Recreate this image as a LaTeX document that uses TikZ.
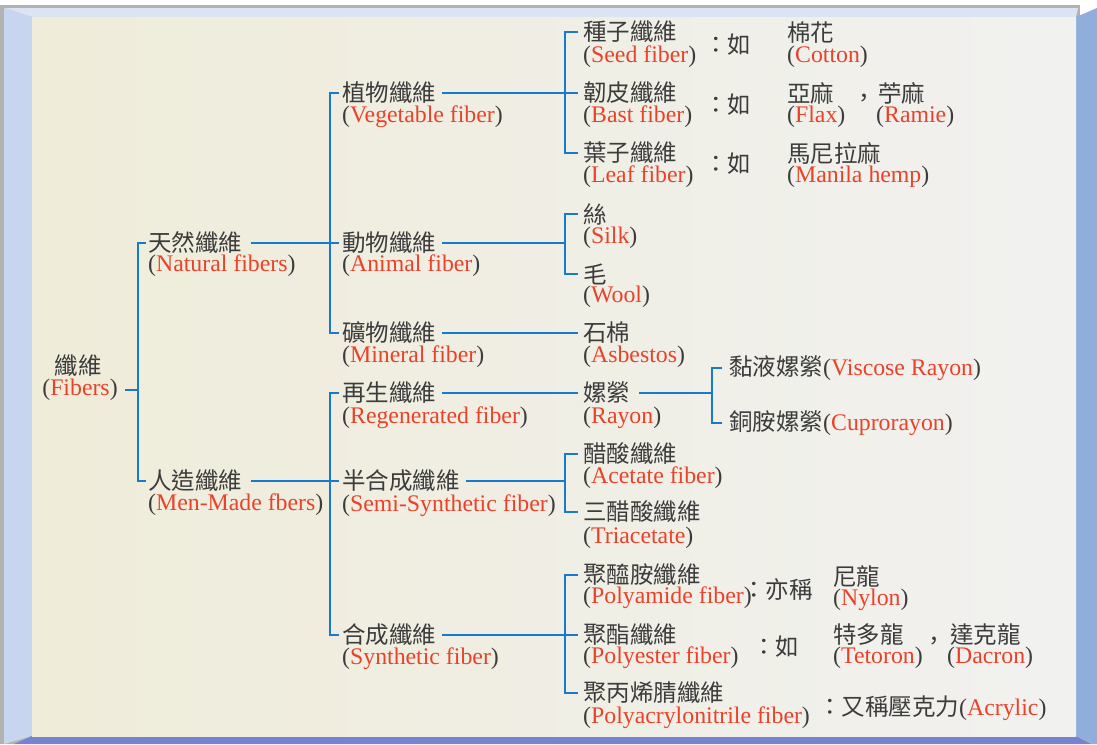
\documentclass[tikz,border=0pt]{standalone}
\usepackage{fontspec}
\setmainfont{Liberation Serif}
\newfontfamily\cjkfont{Noto Sans CJK TC}
\definecolor{linkblue}{RGB}{24,122,204}
\definecolor{enred}{RGB}{234,66,42}
\definecolor{txtgray}{RGB}{60,60,60}
\definecolor{panelL}{RGB}{239,236,217}
\definecolor{panelM}{RGB}{244,243,236}
\definecolor{panelR}{RGB}{241,241,240}
\definecolor{bevL}{RGB}{199,214,238}
\definecolor{bevT}{RGB}{218,228,243}
\definecolor{bevR}{RGB}{143,174,220}
\definecolor{bevB}{RGB}{118,132,208}
\definecolor{edgegray}{RGB}{178,178,178}
\newcommand{\enx}[1]{(\textcolor{enred}{#1})}
\newcommand{\cjkf}{\fontsize{23.5}{26}\selectfont\cjkfont}
\newcommand{\latf}{\fontsize{23.8}{26}\selectfont}
\begin{document}
\begin{tikzpicture}[x=1pt,y=-1pt,
  cjkn/.style={anchor=west,inner sep=0pt,font=\cjkf,text=txtgray},
  latn/.style={anchor=west,inner sep=0pt,font=\latf,text=txtgray},
  conn/.style={draw=linkblue,line width=2.8pt}]
% frame
\fill[white] (0,0) rectangle (1097,744);
\useasboundingbox (0,0) rectangle (1097,744);
\fill[edgegray] (0,5) rectangle (1080,744);
\fill[bevT] (4,8) -- (1078,8) -- (1076,17) -- (32,17) -- cycle;
\fill[bevL] (4,8) -- (32,17) -- (32,736) -- (4,744) -- cycle;
\fill[bevB] (14,744) -- (32,736) -- (1076,736) -- (1092,744) -- cycle;
\fill[bevR] (1076,17) -- (1097,8) -- (1097,744) -- (1092,744) -- (1076,736) -- cycle;
\shade[left color=panelL,middle color=panelM,right color=panelR] (32,17) rectangle (1076,736);
% column coordinates
\coordinate (c1) at (138,0);
\coordinate (c2) at (330,0);
\coordinate (c3) at (565,0);
\coordinate (c4) at (712,0);
% root
\node[cjkn,anchor=center] (fibcn) at (78,366) {纖維};
\node[latn,anchor=center] (fiben) at (80,390) {\enx{Fibers}};
% level 1
\node[cjkn] (natcn) at (148,243) {天然纖維};
\node[latn] (naten) at (148,266) {\enx{Natural fibers}};
\node[cjkn] (mancn) at (148,481) {人造纖維};
\node[latn] (manen) at (148,505) {\enx{Men-Made fbers}};
% level 2
\node[cjkn] (vegcn) at (342,93) {植物纖維};
\node[latn] (vegen) at (342,117) {\enx{Vegetable fiber}};
\node[cjkn] (anicn) at (342,243) {動物纖維};
\node[latn] (anien) at (342,266) {\enx{Animal fiber}};
\node[cjkn] (mincn) at (342,333) {礦物纖維};
\node[latn] (minen) at (342,357) {\enx{Mineral fiber}};
\node[cjkn] (regcn) at (342,393) {再生纖維};
\node[latn] (regen) at (342,418) {\enx{Regenerated fiber}};
\node[cjkn] (semcn) at (342,481) {半合成纖維};
\node[latn] (semen) at (342,506) {\enx{Semi-Synthetic fiber}};
\node[cjkn] (syncn) at (342,635) {合成纖維};
\node[latn] (synen) at (342,659) {\enx{Synthetic fiber}};
% level 3
\node[cjkn] (seedcn) at (583,32) {種子纖維};
\node[latn] (seeden) at (583,57) {\enx{Seed fiber}};
\node[cjkn] (bastcn) at (583,93) {韌皮纖維};
\node[latn] (basten) at (583,117) {\enx{Bast fiber}};
\node[cjkn] (leafcn) at (583,153) {葉子纖維};
\node[latn] (leafen) at (583,177) {\enx{Leaf fiber}};
\node[cjkn] (silkcn) at (583,214) {絲};
\node[latn] (silken) at (583,238) {\enx{Silk}};
\node[cjkn] (woolcn) at (583,274) {毛};
\node[latn] (woolen) at (583,297) {\enx{Wool}};
\node[cjkn] (asbcn) at (583,333) {石棉};
\node[latn] (asben) at (583,357) {\enx{Asbestos}};
\node[cjkn] (raycn) at (583,393) {嫘縈};
\node[latn] (rayen) at (583,418) {\enx{Rayon}};
\node[cjkn] (acecn) at (583,454) {醋酸纖維};
\node[latn] (aceen) at (583,478) {\enx{Acetate fiber}};
\node[cjkn] (tricn) at (583,512) {三醋酸纖維};
\node[latn] (trien) at (583,538) {\enx{Triacetate}};
\node[cjkn] (pamcn) at (583,575) {聚醯胺纖維};
\node[latn] (pamen) at (583,598) {\enx{Polyamide fiber}};
\node[cjkn] (pescn) at (583,635) {聚酯纖維};
\node[latn] (pesen) at (583,658) {\enx{Polyester fiber}};
\node[cjkn] (pancn) at (583,693) {聚丙烯腈纖維};
\node[latn] (panen) at (583,718) {\enx{Polyacrylonitrile fiber}};
% examples
\node[cjkn] (seedru) at (704,45) {：如};
\node[cjkn] (cottoncn) at (787,33) {棉花};
\node[latn] (cottonen) at (787,57) {\enx{Cotton}};
\node[cjkn] (bastru) at (704,105) {：如};
\node[cjkn] (flaxcn) at (787,93) {亞麻};
\node[latn] (flaxen) at (787,117) {\enx{Flax}};
\node[cjkn,anchor=center] (commaa) at (864,100) {，};
\node[cjkn] (ramiecn) at (878,93) {苧麻};
\node[latn] (ramieen) at (876,117) {\enx{Ramie}};
\node[cjkn] (leafru) at (704,164) {：如};
\node[cjkn] (manicn) at (787,153) {馬尼拉麻};
\node[latn] (manien) at (787,177) {\enx{Manila hemp}};
\node[cjkn] (pamyc) at (742,590) {：亦稱};
\node[cjkn] (nyloncn) at (833,577) {尼龍};
\node[latn] (nylonen) at (833,600) {\enx{Nylon}};
\node[cjkn] (pesru) at (752,647) {：如};
\node[cjkn] (tetcn) at (833,635) {特多龍};
\node[latn] (teten) at (833,658) {\enx{Tetoron}};
\node[cjkn,anchor=center] (commab) at (934,643) {，};
\node[cjkn] (daccn) at (950,635) {達克龍};
\node[latn] (dacen) at (947,658) {\enx{Dacron}};
\node[latn] (panyc) at (818,708) {{\cjkf ：又稱壓克力}\enx{Acrylic}};
\node[latn] (viscn) at (729,368) {{\cjkf 黏液嫘縈}\enx{Viscose Rayon}};
\node[latn] (cupcn) at (729,423) {{\cjkf 銅胺嫘縈}\enx{Cuprorayon}};
% connectors
\draw[conn] ([xshift=7pt]fiben.east) -- (fiben.east -| c1);
\draw[conn] ([xshift=-2pt]natcn.west) -- (natcn.west -| c1) -- (mancn.west -| c1) -- ([xshift=-2pt]mancn.west);
\draw[conn] ([xshift=9pt]natcn.east) -- ([xshift=-3pt]anicn.west);
\draw[conn] ([xshift=9pt]mancn.east) -- ([xshift=-3pt]semcn.west);
\draw[conn] ([xshift=-3pt]vegcn.west) -- (vegcn.west -| c2) -- (mincn.west -| c2) -- ([xshift=-3pt]mincn.west);
\draw[conn] ([xshift=-3pt]regcn.west) -- (regcn.west -| c2) -- (syncn.west -| c2) -- ([xshift=-3pt]syncn.west);
\draw[conn] ([xshift=6pt]vegcn.east) -- ([xshift=-5pt]bastcn.west);
\draw[conn] ([xshift=-5pt]seedcn.west) -- (seedcn.west -| c3) -- (leafcn.west -| c3) -- ([xshift=-5pt]leafcn.west);
\draw[conn] ([xshift=6pt]anicn.east) -- (anicn.east -| c3);
\draw[conn] ([xshift=-5pt]silkcn.west) -- (silkcn.west -| c3) -- (woolcn.west -| c3) -- ([xshift=-5pt]woolcn.west);
\draw[conn] ([xshift=6pt]mincn.east) -- ([xshift=-5pt]asbcn.west);
\draw[conn] ([xshift=6pt]regcn.east) -- ([xshift=-5pt]raycn.west);
\draw[conn] ([xshift=6pt]semcn.east) -- (semcn.east -| c3);
\draw[conn] ([xshift=-5pt]acecn.west) -- (acecn.west -| c3) -- (tricn.west -| c3) -- ([xshift=-5pt]tricn.west);
\draw[conn] ([xshift=6pt]syncn.east) -- ([xshift=-5pt]pescn.west);
\draw[conn] ([xshift=-5pt]pamcn.west) -- (pamcn.west -| c3) -- (pancn.west -| c3) -- ([xshift=-5pt]pancn.west);
\draw[conn] ([xshift=9pt]raycn.east) -- (raycn.east -| c4);
\draw[conn] ([xshift=-7pt]viscn.west) -- (viscn.west -| c4) -- (cupcn.west -| c4) -- ([xshift=-7pt]cupcn.west);
\end{tikzpicture}
\end{document}
